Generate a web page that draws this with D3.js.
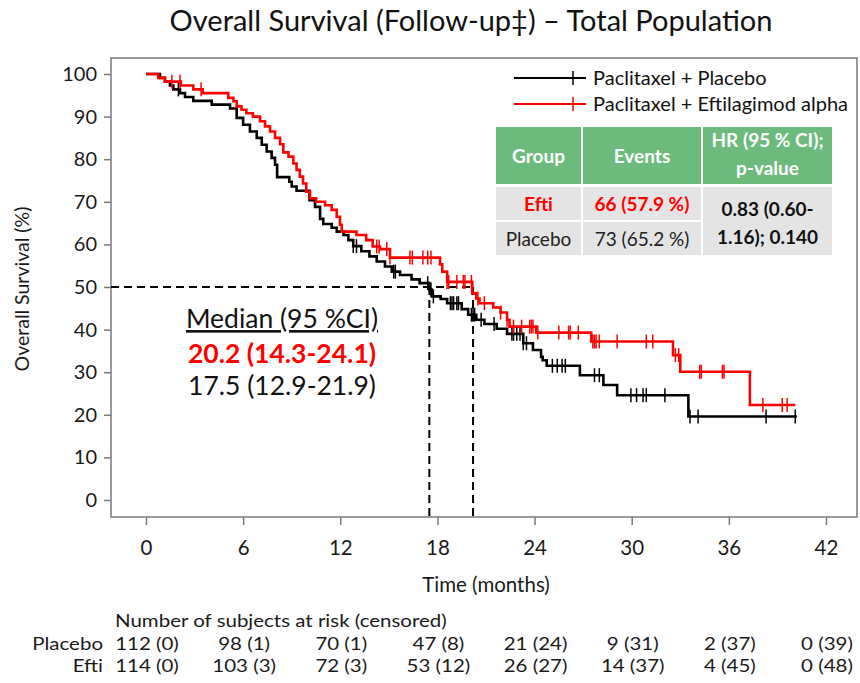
<!DOCTYPE html>
<html>
<head>
<meta charset="utf-8">
<script src="https://cdn.jsdelivr.net/npm/d3@7"></script>
<style>
  html, body { margin: 0; padding: 0; background: #fff; }
  svg { display: block; }
  text { font-family: Lato, "Open Sans", sans-serif; }
</style>
</head>
<body>
<svg id="chart" width="860" height="683"></svg>
<script>
// ---------------- DATA ----------------
const xTicks = [0, 6, 12, 18, 24, 30, 36, 42];
const yTicks = [0, 10, 20, 30, 40, 50, 60, 70, 80, 90, 100];

// Paclitaxel + Placebo (step times in months, survival % after each step)
const placeboTimes = [0, 0.86, 1.17, 1.48, 1.69, 2.1, 2.41, 2.92, 4.06, 5.19, 5.6, 6.0, 6.42, 6.84, 7.15, 7.45, 7.76, 7.97, 8.1, 8.85, 9.0, 9.3, 10.1, 10.44, 10.75, 10.95, 11.47, 11.78, 12.2, 12.5, 12.8, 13.3, 13.8, 14.25, 14.76, 15.18, 15.69, 16.4, 16.9, 17.5, 17.65, 18.2, 18.6, 19.5, 19.9, 20.4, 20.9, 21.66, 22.3, 23.3, 23.9, 24.4, 24.5, 24.75, 26.8, 28.25, 29.1, 33.5];
const placeboSurv  = [100, 99.1, 98.2, 97.3, 96.4, 95.5, 94.6, 93.7, 92.8, 91.9, 89.7, 88.1, 86.5, 85.0, 83.4, 81.8, 80.3, 78.7, 75.8, 74.7, 73.6, 72.6, 70.4, 68.8, 66.0, 64.8, 63.9, 63.0, 62.2, 61.0, 59.6, 58.4, 57.2, 56.0, 54.8, 53.6, 52.8, 51.8, 50.9, 49.4, 47.8, 47.2, 46.2, 44.8, 43.5, 42.3, 41.3, 40.2, 39.0, 36.8, 35.2, 33.6, 32.8, 31.5, 29.3, 27.0, 24.6, 19.6];
const placeboEnd = 40.2;
const placeboCensor = [2.0, 12.8, 13.0, 15.3, 15.4, 17.4, 17.6, 17.75, 18.8, 18.9, 19.0, 19.2, 19.3, 20.1, 20.2, 20.3, 20.7, 21.5, 22.6, 22.7, 22.9, 23.1, 23.3, 23.5, 25.1, 25.4, 25.7, 25.9, 27.7, 28.0, 29.95, 30.3, 30.7, 30.9, 32.05, 33.6, 34.1, 38.3, 40.1];

// Paclitaxel + Eftilagimod alpha
const eftiTimes = [0, 0.76, 1.17, 2.15, 2.92, 3.5, 5.08, 5.4, 5.6, 5.9, 6.2, 6.6, 7.04, 7.35, 7.66, 7.97, 8.28, 8.48, 8.8, 9.1, 9.3, 9.5, 9.7, 9.9, 10.13, 10.5, 11.06, 11.47, 11.78, 11.98, 12.09, 13.0, 13.6, 14.0, 14.45, 15.07, 18.16, 18.3, 18.6, 20.15, 20.4, 20.6, 21.45, 21.9, 22.3, 22.45, 24.1, 27.5, 32.55, 33.0, 37.3];
const eftiSurv  = [100, 99.1, 98.2, 97.3, 96.4, 95.5, 94.4, 93.6, 92.4, 91.6, 90.8, 90.0, 88.9, 87.7, 86.5, 85.0, 83.5, 81.6, 80.6, 79.0, 77.5, 75.9, 74.3, 72.4, 70.8, 70.0, 69.2, 68.1, 66.5, 64.6, 63.0, 62.2, 61.0, 59.5, 58.9, 56.9, 55.3, 53.6, 51.2, 48.5, 47.3, 46.2, 45.2, 44.0, 42.3, 40.7, 39.3, 37.2, 34.0, 30.1, 22.3];
const eftiEnd = 40.1;
const eftiCensor = [1.6, 2.1, 3.4, 14.25, 14.4, 14.87, 15.07, 16.3, 16.45, 17.1, 17.4, 17.6, 18.6, 18.7, 19.2, 19.6, 19.7, 20.1, 20.5, 20.9, 21.9, 22.3, 22.7, 23.2, 23.7, 23.8, 23.9, 24.2, 25.5, 26.1, 26.2, 26.7, 27.6, 27.7, 27.8, 28.0, 29.1, 30.9, 31.3, 32.7, 32.9, 34.2, 34.3, 35.6, 35.7, 38.1, 39.3, 39.6];

const medians = [20.2, 17.5];
const riskPlacebo = ["112 (0)", "98 (1)", "70 (1)", "47 (8)", "21 (24)", "9 (31)", "2 (37)", "0 (39)"];
const riskEfti    = ["114 (0)", "103 (3)", "72 (3)", "53 (12)", "26 (27)", "14 (37)", "4 (45)", "0 (48)"];
const legendLabels = ["Paclitaxel + Placebo", "Paclitaxel + Eftilagimod alpha"];
const tableHeader = ["Group", "Events", "HR (95 % CI);|p-value"];
const tableGroups = ["Efti", "Placebo"];
const tableEvents = ["66 (57.9 %)", "73 (65.2 %)"];
const tableHR = ["0.83 (0.60-", "1.16); 0.140"];

// ---------------- DRAW ----------------
const svg = d3.select("#chart");
const frame = {left: 111, right: 857, top: 58, bottom: 517};
const x = d3.scaleLinear().domain([0, 42]).range([146, 826]);
const y = d3.scaleLinear().domain([0, 100]).range([500, 74]);
const axisColor = "#7a7a7a";
const textColor = "#1a1a1a";

// condensed text style (tall, narrow glyphs) for x axis & risk table
const axisNarrowSize = 22;
const riskSize = 18;
function fitScale(size, target) {
  const probe = svg.append("text").attr("font-size", size).text("Number of subjects at risk (censored)");
  const s = target / probe.node().getComputedTextLength();
  probe.remove();
  return s;
}
const sxAxis = fitScale(axisNarrowSize, 332);
const sxRisk = fitScale(riskSize, 332);
function narrow(parent, tx, ty, str, anchor, size, sx) {
  return parent.append("text")
    .attr("transform", `translate(${tx},${ty}) scale(${sx},1)`)
    .attr("text-anchor", anchor || "start")
    .attr("font-size", size).attr("fill", textColor).text(str);
}

// Title
svg.append("text")
  .attr("x", 471).attr("y", 31).attr("text-anchor", "middle")
  .attr("font-size", 29).attr("fill", "#111")
  .text("Overall Survival (Follow-up\u2021) \u2013 Total Population");

// frame
svg.append("rect").attr("x", frame.left).attr("y", frame.top)
  .attr("width", frame.right - frame.left).attr("height", frame.bottom - frame.top)
  .attr("fill", "none").attr("stroke", axisColor).attr("stroke-width", 1.5);

// y axis
const yAxis = d3.axisLeft(y).tickValues(yTicks).tickSize(7).tickPadding(7);
const gy = svg.append("g").attr("transform", `translate(${frame.left},0)`).call(yAxis);
gy.select(".domain").remove();
gy.attr("font-family", null);
gy.selectAll("line").attr("stroke", axisColor).attr("stroke-width", 1.5);
gy.selectAll("text").attr("font-size", 20).attr("fill", textColor);

// x axis
const xAxis = d3.axisBottom(x).tickValues(xTicks).tickSize(8).tickPadding(14);
const gx = svg.append("g").attr("transform", `translate(0,${frame.bottom})`).call(xAxis);
gx.select(".domain").remove();
gx.attr("font-family", null);
gx.selectAll("line").attr("stroke", axisColor).attr("stroke-width", 1.5);
gx.selectAll("text").attr("font-size", axisNarrowSize).attr("fill", textColor)
  .attr("transform", `scale(${sxAxis},1)`);

// axis titles
svg.append("text")
  .attr("transform", "translate(29,289) rotate(-90)")
  .attr("text-anchor", "middle").attr("font-size", 19.5).attr("fill", textColor)
  .text("Overall Survival (%)");
narrow(svg, 486, 592, "Time (months)", "middle", axisNarrowSize, sxAxis);

// median dashed lines
const dash = "8,5";
svg.append("line").attr("x1", frame.left).attr("x2", x(medians[0])).attr("y1", y(50)).attr("y2", y(50))
  .attr("stroke", "#000").attr("stroke-width", 2).attr("stroke-dasharray", dash);
medians.forEach(m => {
  svg.append("line").attr("x1", x(m)).attr("x2", x(m)).attr("y1", y(50)).attr("y2", frame.bottom)
    .attr("stroke", "#000").attr("stroke-width", 2).attr("stroke-dasharray", dash);
});

// curves
function stepPoints(times, surv, end) {
  const pts = times.map((t, i) => [t, surv[i]]);
  pts.push([end, surv[surv.length - 1]]);
  return pts;
}
function survAt(times, surv, t) {
  let s = surv[0];
  for (let i = 0; i < times.length; i++) if (times[i] <= t) s = surv[i];
  return s;
}
const line = d3.line().x(d => x(d[0])).y(d => y(d[1])).curve(d3.curveStepAfter);

function drawCurve(times, surv, end, censor, color) {
  const g = svg.append("g");
  g.append("path").datum(stepPoints(times, surv, end))
    .attr("d", line).attr("fill", "none").attr("stroke", color)
    .attr("stroke-width", 2.6).attr("stroke-linejoin", "miter");
  g.selectAll("line.c").data(censor).enter().append("line")
    .attr("x1", d => x(d)).attr("x2", d => x(d))
    .attr("y1", d => y(survAt(times, surv, d)) - 7)
    .attr("y2", d => y(survAt(times, surv, d)) + 7)
    .attr("stroke", color).attr("stroke-width", 1.5);
}
drawCurve(placeboTimes, placeboSurv, placeboEnd, placeboCensor, "#000");
drawCurve(eftiTimes, eftiSurv, eftiEnd, eftiCensor, "#ff0000");

// median text
const mt = svg.append("g").attr("text-anchor", "middle");
mt.append("text").attr("x", 282).attr("y", 328).attr("font-size", 26.5).attr("fill", "#111")
  .attr("text-decoration", "underline").text("Median (95 %CI)");
mt.append("text").attr("x", 282).attr("y", 363).attr("font-size", 26.5).attr("font-weight", "bold")
  .attr("fill", "#ff0000").text(`${medians[0].toFixed(1)} (14.3-24.1)`);
mt.append("text").attr("x", 282).attr("y", 395).attr("font-size", 26.5).attr("fill", "#111")
  .text(`${medians[1].toFixed(1)} (12.9-21.9)`);

// legend
const legColors = ["#000", "#ff0000"];
legendLabels.forEach((lab, i) => {
  const ly = 78 + i * 26;
  svg.append("line").attr("x1", 514).attr("x2", 586).attr("y1", ly).attr("y2", ly)
    .attr("stroke", legColors[i]).attr("stroke-width", 2.2);
  svg.append("line").attr("x1", 573).attr("x2", 573).attr("y1", ly - 7).attr("y2", ly + 7)
    .attr("stroke", legColors[i]).attr("stroke-width", 1.5);
  svg.append("text").attr("x", 593).attr("y", ly + 7)
    .attr("font-size", 20).attr("fill", "#111").text(lab);
});

// table
const colX = [495, 582, 702, 833];
const green = "#6dbb7c", gray = "#e4e4e4";
const tg = svg.append("g");
for (let c = 0; c < 3; c++) {
  tg.append("rect").attr("x", colX[c] + 1).attr("y", 127).attr("width", colX[c + 1] - colX[c] - 2)
    .attr("height", 57).attr("fill", green);
}
for (let r = 0; r < 2; r++) {
  for (let c = 0; c < 2; c++) {
    tg.append("rect").attr("x", colX[c] + 1).attr("y", 187 + r * 35).attr("width", colX[c + 1] - colX[c] - 2)
      .attr("height", 33).attr("fill", gray);
  }
}
tg.append("rect").attr("x", colX[2] + 1).attr("y", 187).attr("width", colX[3] - colX[2] - 2)
  .attr("height", 68).attr("fill", gray);
const cx = c => (colX[c] + colX[c + 1]) / 2;
tableHeader.forEach((h, c) => {
  const parts = h.split("|");
  parts.forEach((p, k) => {
    tg.append("text").attr("x", cx(c)).attr("text-anchor", "middle")
      .attr("y", parts.length === 1 ? 163 : 147 + k * 28)
      .attr("font-size", 19).attr("font-weight", "bold").attr("fill", "#fff").text(p);
  });
});
tableGroups.forEach((g, r) => {
  const red = r === 0;
  tg.append("text").attr("x", cx(0)).attr("y", 211 + r * 35).attr("text-anchor", "middle")
    .attr("font-size", 19).attr("font-weight", red ? "bold" : "normal")
    .attr("fill", red ? "#ff0000" : "#222").text(g);
  tg.append("text").attr("x", cx(1)).attr("y", 211 + r * 35).attr("text-anchor", "middle")
    .attr("font-size", 19).attr("font-weight", red ? "bold" : "normal")
    .attr("fill", red ? "#ff0000" : "#222").text(tableEvents[r]);
});
tableHR.forEach((t, k) => {
  tg.append("text").attr("x", cx(2)).attr("y", 216 + k * 28).attr("text-anchor", "middle")
    .attr("font-size", 19).attr("font-weight", "bold").attr("fill", "#111").text(t);
});

// risk table
const rt = svg.append("g");
narrow(rt, 115, 627, "Number of subjects at risk (censored)", "start", riskSize, sxRisk);
[["Placebo", riskPlacebo, 650], ["Efti", riskEfti, 672]].forEach(([lab, arr, yy]) => {
  narrow(rt, 103, yy, lab, "end", riskSize, sxRisk);
  arr.forEach((d, i) => narrow(rt, x(xTicks[i]) + 1, yy, d, "middle", riskSize, sxRisk));
});
</script>
</body>
</html>
